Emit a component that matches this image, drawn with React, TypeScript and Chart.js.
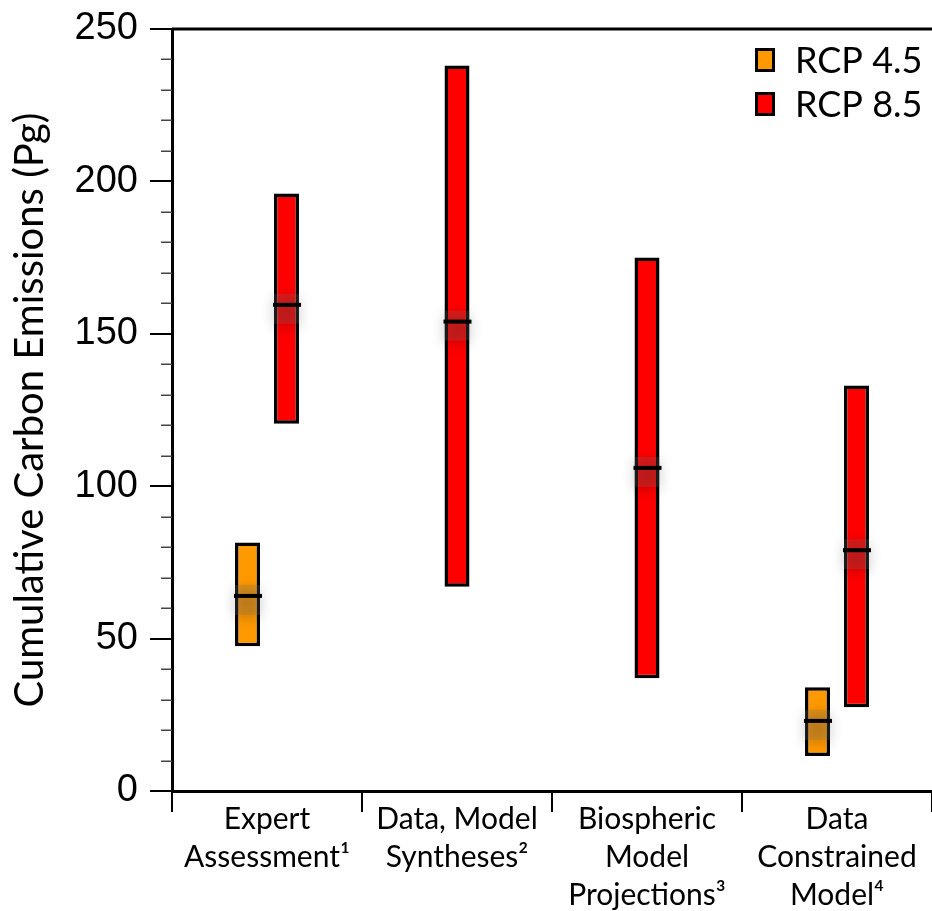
import React, { useEffect, useRef } from 'react';
import { Chart, registerables } from 'chart.js';

Chart.register(...registerables);

const categories: string[][] = [
  ['Expert', 'Assessment¹'],
  ['Data, Model', 'Syntheses²'],
  ['Biospheric', 'Model', 'Projections³'],
  ['Data', 'Constrained', 'Model⁴'],
];
const seriesNames = ['RCP 4.5', 'RCP 8.5'];
const seriesColors = ['#FF9900', '#FF0000'];

const rcp45Low: (number | null)[] = [47.5, null, null, 11.5];
const rcp45High: (number | null)[] = [81.5, null, null, 34];
const rcp45Median: (number | null)[] = [64, null, null, 23];

const rcp85Low: (number | null)[] = [120.5, 67, 37, 27.5];
const rcp85High: (number | null)[] = [196, 238, 175, 133];
const rcp85Median: (number | null)[] = [159.5, 154, 106, 79];

const yMajorTicks = [0, 50, 100, 150, 200, 250];

const LABEL_FONT = 'Lato, "Open Sans", "DejaVu Sans", sans-serif';
const TICK_FONT = '"Liberation Sans", Arial, Helvetica, sans-serif';

const toRanges = (lo: (number | null)[], hi: (number | null)[]) =>
  lo.map((l, i) => (l == null || hi[i] == null ? null : [l, hi[i] as number]));

const medianPlugin = {
  id: 'medianLines',
  afterDatasetsDraw(chart: any) {
    const { ctx } = chart;
    const y = chart.scales.y;
    chart.data.datasets.forEach((ds: any, di: number) => {
      const meta = chart.getDatasetMeta(di);
      const meds: (number | null)[] = ds.medians || [];
      meta.data.forEach((bar: any, j: number) => {
        const m = meds[j];
        if (m == null || ds.data[j] == null) return;
        const { x, width } = bar.getProps(['x', 'width'], true);
        const py = y.getPixelForValue(m);
        const left = x - width / 2;
        ctx.save();
        ctx.shadowColor = 'rgba(0,0,0,0.9)';
        ctx.shadowBlur = 14;
        ctx.shadowOffsetY = 3;
        ctx.fillStyle = 'rgba(120,120,120,0.22)';
        ctx.fillRect(left, py - 11, width, 30);
        ctx.restore();
        ctx.save();
        ctx.strokeStyle = '#000';
        ctx.lineWidth = 4;
        ctx.beginPath();
        ctx.moveTo(left - 1, py);
        ctx.lineTo(left + width + 2, py);
        ctx.stroke();
        ctx.restore();
      });
    });
  },
};

const framePlugin = {
  id: 'frameAndMinorTicks',
  afterDraw(chart: any) {
    const { ctx, chartArea } = chart;
    const y = chart.scales.y;
    ctx.save();
    ctx.strokeStyle = '#000';
    ctx.lineWidth = 3;
    ctx.beginPath();
    ctx.moveTo(chartArea.left, chartArea.top);
    ctx.lineTo(chartArea.right, chartArea.top);
    ctx.stroke();
    ctx.strokeStyle = '#444';
    ctx.lineWidth = 1.5;
    y.ticks.forEach((t: any) => {
      if (yMajorTicks.includes(t.value)) return;
      const py = Math.round(y.getPixelForValue(t.value)) + 0.25;
      ctx.beginPath();
      ctx.moveTo(chartArea.left - 11, py);
      ctx.lineTo(chartArea.left, py);
      ctx.stroke();
    });
    ctx.restore();
  },
};

const legendPlugin = {
  id: 'cornerLegend',
  afterDraw(chart: any) {
    const { ctx, chartArea } = chart;
    ctx.save();
    ctx.font = `36px ${LABEL_FONT}`;
    ctx.textBaseline = 'middle';
    ctx.textAlign = 'left';
    chart.data.datasets.forEach((ds: any, i: number) => {
      const boxX = chartArea.right - 177;
      const cy = chartArea.top + 31 + i * 44;
      ctx.fillStyle = '#000';
      ctx.fillRect(boxX, cy - 12, 20, 24);
      ctx.fillStyle = ds.backgroundColor;
      ctx.fillRect(boxX + 3, cy - 9, 14, 18);
      ctx.fillStyle = '#000';
      ctx.fillText(ds.label, boxX + 40, cy + 1);
    });
    ctx.restore();
  },
};

export default function App() {
  const canvasRef = useRef<HTMLCanvasElement | null>(null);

  useEffect(() => {
    const canvas = canvasRef.current;
    if (!canvas) return;
    const chart = new Chart(canvas, {
      type: 'bar',
      data: {
        labels: categories as any,
        datasets: [
          {
            label: seriesNames[0],
            data: toRanges(rcp45Low, rcp45High) as any,
            backgroundColor: seriesColors[0],
            borderColor: '#000',
            borderWidth: 3.5,
            borderSkipped: false,
            medians: rcp45Median,
          } as any,
          {
            label: seriesNames[1],
            data: toRanges(rcp85Low, rcp85High) as any,
            backgroundColor: seriesColors[1],
            borderColor: '#000',
            borderWidth: 3.5,
            borderSkipped: false,
            medians: rcp85Median,
          } as any,
        ],
      },
      options: {
        responsive: false,
        animation: false,
        devicePixelRatio: 1,
        skipNull: true,
        categoryPercentage: 0.41,
        barPercentage: 0.66,
        maxBarThickness: 25,
        layout: { padding: { top: 29, right: 0, bottom: 0, left: 0 } },
        plugins: {
          legend: { display: false },
          tooltip: { enabled: false },
        },
        scales: {
          x: {
            type: 'category',
            offset: true,
            grid: {
              offset: true,
              drawOnChartArea: false,
              drawTicks: true,
              tickLength: 21,
              lineWidth: 2,
              color: '#000',
            },
            border: { display: true, color: '#000', width: 3 },
            ticks: {
              color: '#000',
              font: { family: LABEL_FONT, size: 30, lineHeight: 1.27 },
              padding: -12,
              maxRotation: 0,
              autoSkip: false,
            },
            afterFit: (scale: any) => {
              scale.height = 120;
              scale.paddingLeft = 0;
              scale.paddingRight = 0;
            },
          },
          y: {
            type: 'linear',
            min: 0,
            max: 250,
            grid: {
              drawOnChartArea: false,
              drawTicks: true,
              tickLength: 22,
              lineWidth: 2,
              color: '#000',
              tickColor: (c: any) =>
                c.tick && yMajorTicks.includes(c.tick.value) ? '#000' : 'rgba(0,0,0,0)',
            },
            border: { display: true, color: '#000', width: 3 },
            ticks: {
              stepSize: 10,
              autoSkip: false,
              color: '#000',
              padding: 12,
              font: { family: TICK_FONT, size: 38 },
              callback: (v: any) => (yMajorTicks.includes(Number(v)) ? String(v) : ''),
            },
            title: {
              display: true,
              text: 'Cumulative Carbon Emissions (Pg)',
              color: '#000',
              font: { family: LABEL_FONT, size: 40 },
              padding: { top: 6, bottom: 0 },
            },
            afterFit: (scale: any) => {
              scale.width = 172;
              scale.paddingTop = 0;
              scale.paddingBottom = 0;
            },
          },
        },
      } as any,
      plugins: [medianPlugin, framePlugin, legendPlugin],
    });
    return () => chart.destroy();
  }, []);

  return (
    <div style={{ position: 'absolute', left: 0, top: 0, width: 932, height: 911, background: '#fff' }}>
      <canvas ref={canvasRef} width={932} height={911} style={{ display: 'block', width: 932, height: 911 }} />
    </div>
  );
}
